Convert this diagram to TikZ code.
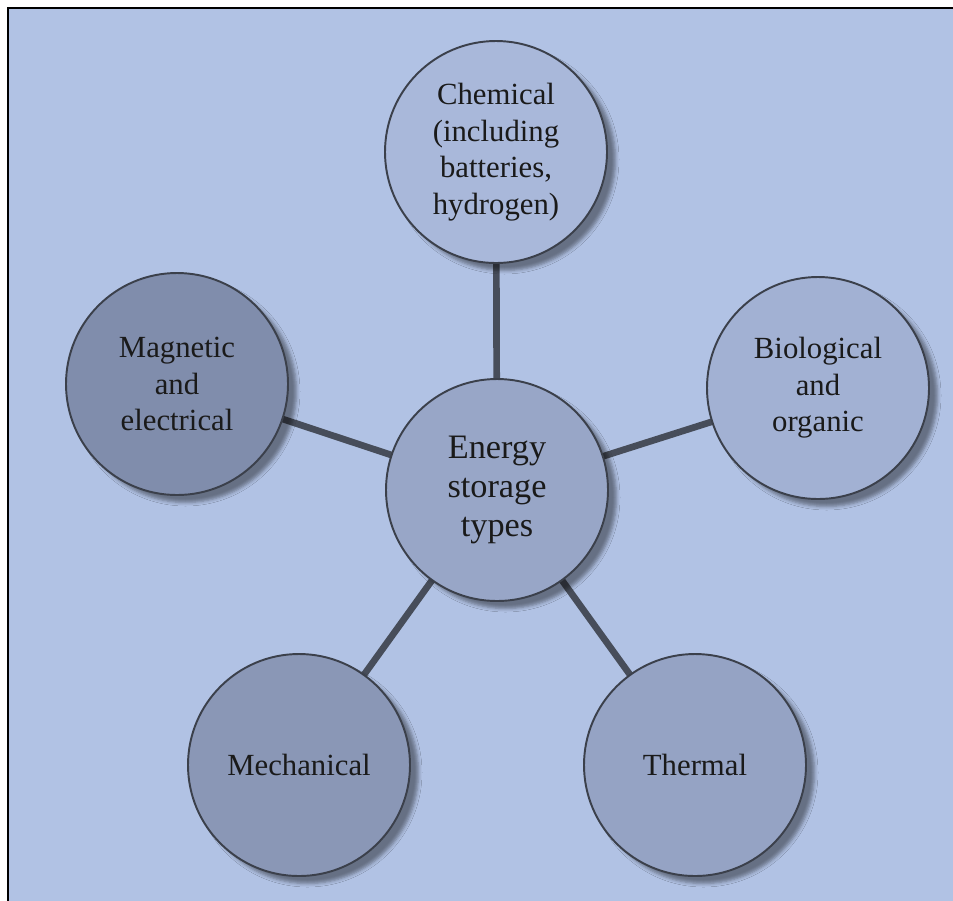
\documentclass[tikz,border=0pt]{standalone}
\usepackage{fontspec}
\setmainfont{Liberation Serif}
\usetikzlibrary{shadows.blur,backgrounds}
\definecolor{panelblue}{HTML}{B1C2E4}
\definecolor{chemfill}{HTML}{A9B8DA}
\definecolor{biofill}{HTML}{A2B1D3}
\definecolor{hubfill}{HTML}{98A6C7}
\definecolor{thermfill}{HTML}{95A3C4}
\definecolor{mechfill}{HTML}{8A97B6}
\definecolor{magnfill}{HTML}{808DAC}
\definecolor{rimgray}{HTML}{3B404B}
\definecolor{spokegray}{HTML}{474D5A}
\definecolor{inkblack}{HTML}{1A1A1A}
\tikzset{
  kind/.style={
    circle,
    draw=rimgray,
    line width=1.1pt,
    minimum size=4.44cm,
    inner sep=0pt,
    align=center,
    text=inkblack,
    font=\fontsize{17.5}{20.8}\selectfont,
    blur shadow={shadow xshift=0.17cm, shadow yshift=-0.15cm,
                 shadow opacity=42, shadow blur radius=0.07cm}
  },
  hubkind/.style={kind, font=\fontsize{19.5}{22}\selectfont},
  spoke/.style={draw=spokegray, line width=3.8pt}
}

\begin{document}
\begin{tikzpicture}

\useasboundingbox (0,0) rectangle (19.06,-18);

% Storage types
\node[hubkind, fill=hubfill] (energy) at (9.94,-9.80) {Energy\\storage\\types};
\node[kind, fill=chemfill] (chemical) at (9.92,-3.04) {Chemical\\(including\\batteries,\\hydrogen)};
\node[kind, fill=biofill] (biological) at (16.36,-7.76) {Biological\\and\\organic};
\node[kind, fill=magnfill] (magnetic) at (3.54,-7.68) {Magnetic\\and\\electrical};
\node[kind, fill=mechfill] (mechanical) at (5.98,-15.30) {Mechanical};
\node[kind, fill=thermfill] (thermal) at (13.90,-15.30) {Thermal};

% Panel and spokes
\begin{pgfonlayer}{background}
  \fill[white] (0,0) rectangle (19.06,-18);
  \fill[panelblue] (0.17,-0.17) rectangle (19.4,-18.4);
  \draw[black, line width=1.5pt] (0.16,-18.4) -- (0.16,-0.16) -- (19.4,-0.16);
  \draw[spoke] (energy.center) -- (chemical.center);
  \draw[spoke] (energy.center) -- (biological.center);
  \draw[spoke] (energy.center) -- (magnetic.center);
  \draw[spoke] (energy.center) -- (mechanical.center);
  \draw[spoke] (energy.center) -- (thermal.center);
\end{pgfonlayer}

\end{tikzpicture}
\end{document}
